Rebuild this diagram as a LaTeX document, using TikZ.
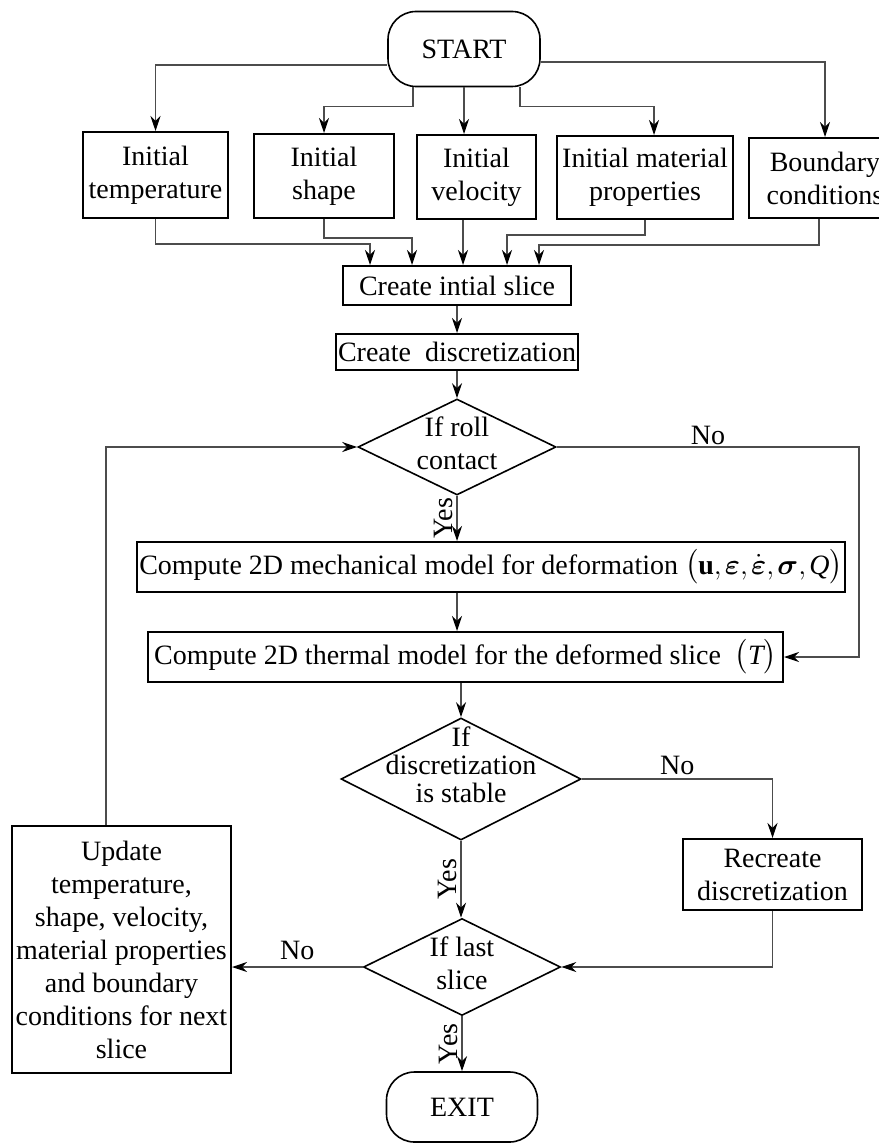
\documentclass[tikz,border=0pt]{standalone}
\usepackage{fontspec}
\setmainfont{Liberation Serif}
\usepackage{amsmath}
\usetikzlibrary{shapes.geometric,arrows.meta}
\newcommand{\dtext}[2][0pt]{\smash{\makebox[0pt]{\raisebox{\dimexpr#1-3.5pt\relax}{\begin{tabular}{@{}c@{}}#2\end{tabular}}}}}
\newcommand{\cm}{{,}\mkern2mu}
\begin{document}
\begin{tikzpicture}
  [x=0.5pt,y=-0.5pt,
   every node/.style={font=\fontsize{14}{16.5}\selectfont,align=center,inner sep=0pt},
   box/.style={draw,rectangle,line width=1pt},
   term/.style={draw,rectangle,rounded corners=14pt,line width=0.8pt},
   decision/.style={draw,diamond,line width=0.8pt},
   arr/.style={draw=black!70,line width=0.55pt,-{Stealth[length=7.5pt,width=5pt,inset=2.4pt,black]}},
   lbl/.style={inner sep=#1},lbl/.default=2pt]
  \useasboundingbox (0,0) rectangle (878,1144);
  % terminals and boxes
  \node[term,minimum width=76pt,minimum height=37.5pt] (start) at (464,49) {START};
  \node[box,minimum width=72.5pt,minimum height=43pt] (temp) at (155.5,175) {Initial\\temperature};
  \node[box,minimum width=70pt,minimum height=42pt] (shape) at (324,176) {Initial\\shape};
  \node[box,minimum width=59.5pt,minimum height=42pt] (vel) at (476.5,177) {Initial\\velocity};
  \node[box,minimum width=88pt,minimum height=41.5pt] (mat) at (645,177.5) {Initial material\\properties};
  \node[box,minimum width=76pt,minimum height=40pt] (bound) at (825,178) {Boundary\\conditions};
  \node[box,minimum width=114pt,minimum height=19.5pt] (init) at (457,285.5) {Create intial slice};
  \node[box,minimum width=121pt,minimum height=18pt] (disc) at (457,352) {Create~~discretization};
  \node[decision,minimum width=99pt,minimum height=48pt] (roll) at (457,447) {\dtext{If roll\\contact}};
  \node[box,minimum width=354pt,minimum height=25pt] (mech) at (491,567)
    {Compute 2D mechanical model for deformation $\bigl(\mathbf{u}\cm\boldsymbol{\varepsilon}\cm\dot{\boldsymbol{\varepsilon}}\cm\boldsymbol{\sigma}\cm\textit{Q}\bigr)$};
  \node[box,minimum width=317.5pt,minimum height=25pt] (therm) at (465.5,657)
    {Compute 2D thermal model for the deformed slice\ \ $\bigl(\textit{T}\bigr)$};
  \node[decision,minimum width=120pt,minimum height=61pt] (stable) at (461,779)
    {\renewcommand{\arraystretch}{0.84}\dtext[5pt]{If\\discretization\\is stable}};
  \node[box,minimum width=89.5pt,minimum height=35.5pt] (recreate) at (772.5,874.5) {Recreate\\discretization};
  \node[box,minimum width=109.5pt,minimum height=123.5pt] (update) at (121.5,949.5)
    {Update\\temperature,\\shape, velocity,\\material properties\\and boundary\\conditions for next\\slice};
  \node[decision,minimum width=98.5pt,minimum height=48.5pt] (last) at (462,967) {\dtext{If last\\slice}};
  \node[term,minimum width=75.5pt,minimum height=35pt] (exit) at (462,1107) {EXIT};

  % from START to the inputs
  \draw[arr] ([yshift=-8pt]start.west) -| (temp.north);
  \draw[arr] ([xshift=-25.5pt]start.south) -- ++(0,19.5) -| (shape.north);
  \draw[arr] (start.south) -- (start.south |- vel.north);
  \draw[arr] ([xshift=28pt]start.south) -- ++(0,19.5) -| ([xshift=4.5pt]mat.north);
  \draw[arr] ([yshift=-6.5pt]start.east) -| (bound.north);

  % inputs into the initial slice
  \draw[arr] (temp.south) -- ++(0,25) -| ([xshift=-43.5pt]init.north);
  \draw[arr] (shape.south) -- ++(0,19) -| ([xshift=-22.5pt]init.north);
  \draw[arr] ([xshift=3pt]init.north |- vel.south) -- ([xshift=3pt]init.north);
  \draw[arr] (mat.south) -- ++(0,15) -| ([xshift=25pt]init.north);
  \draw[arr] ([xshift=-3pt]bound.south) -- ++(0,26) -| ([xshift=41pt]init.north);

  \path[arr]
        (init) edge (disc)
        (disc) edge (roll);

  % roll contact
  \draw[arr] (roll.south) -- node[lbl,rotate=90,anchor=south] {Yes} (roll.south |- mech.north);
  \draw[arr] (mech.south -| roll.south) -- (therm.north -| roll.south);
  \draw[arr] (roll.east) -- node[lbl=1pt,above] {No} (roll.east -| 859,0) |- (therm.east);

  % stability of the discretization
  \draw[arr] (therm.south -| stable.north) -- (stable.north);
  \draw[arr] (stable.south) -- node[lbl,rotate=90,anchor=south] {Yes} (stable.south |- last.north);
  \draw[arr] (stable.east) -| node[lbl,above,pos=.25] {No} (recreate.north);
  \draw[arr] (recreate.south) |- (last.east);

  % last slice
  \draw[arr] (last.south) -- node[lbl,rotate=90,anchor=south] {Yes} (exit.north);
  \draw[arr] (last.west) -- node[lbl=3.5pt,above] {No} (last.west -| update.east);
  \draw[arr] ([xshift=-7.75pt]update.north) |- (roll.west);

\end{tikzpicture}
\end{document}
